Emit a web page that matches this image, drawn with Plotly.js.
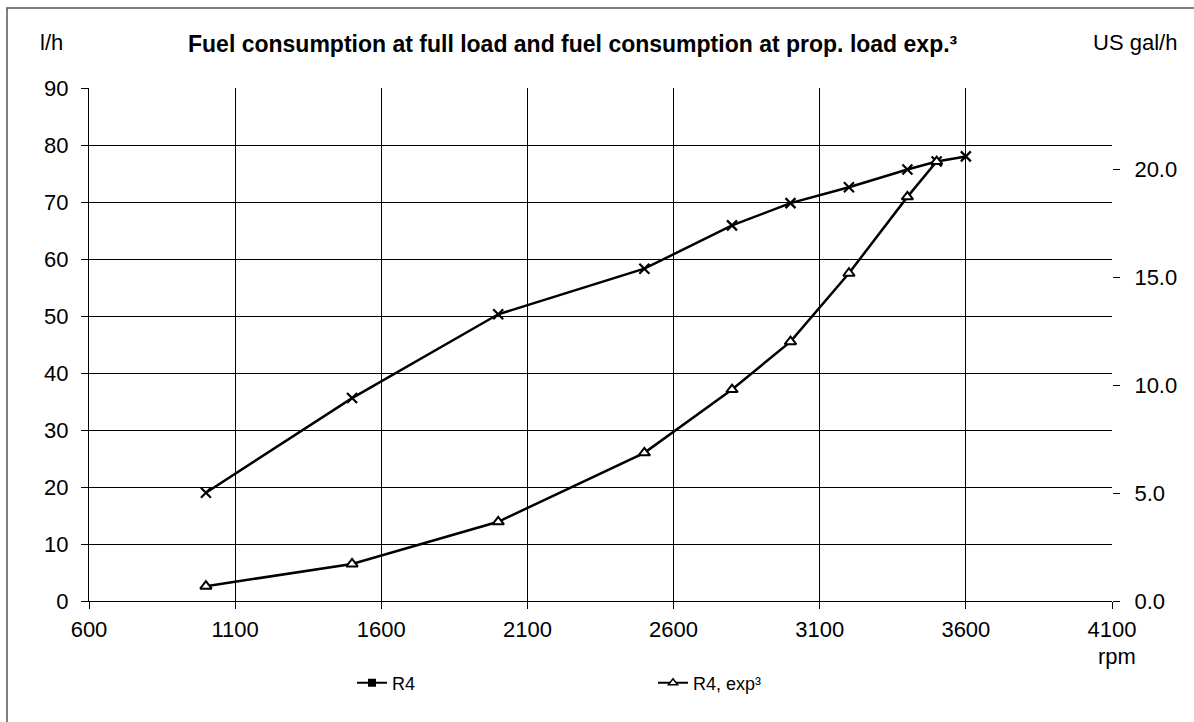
<!DOCTYPE html>
<html><head><meta charset="utf-8">
<script src="https://cdn.plot.ly/plotly-3.0.1.min.js"></script>
<style>body{margin:0;background:#fff}#chart{width:1194px;height:722px}</style>
</head><body><div id="chart"></div>
<script>
const rpm = [1000, 1500, 2000, 2500, 2800, 3000, 3200, 3400, 3500, 3600];
const fullLoad = [19.0, 35.6, 50.3, 58.3, 65.9, 69.8, 72.6, 75.7, 77.1, 78.0];
const rpmProp = [1000, 1500, 2000, 2500, 2800, 3000, 3200, 3400, 3500];
const propLoad = [2.6, 6.5, 13.9, 26.0, 37.1, 45.5, 57.5, 70.9, 77.1];
const seriesNames = ['R4', 'R4, exp³'];
const LPERGAL = 3.785411784;
const F = 'Liberation Sans, Arial, sans-serif';
const PW = 1023, PH = 513;

const traces = [
  {x: rpm, y: fullLoad, mode: 'lines+markers', showlegend: false,
   line: {color: '#000', width: 2.5},
   marker: {symbol: 'x-thin', size: 10, color: '#000', line: {color: '#000', width: 2.2}}},
  {x: rpmProp, y: propLoad, mode: 'lines+markers', showlegend: false,
   line: {color: '#000', width: 2.5},
   marker: {symbol: 'triangle-up', size: 10, color: '#fff', line: {color: '#000', width: 2}}},
  {x: [null], y: [null], mode: 'lines+markers', name: seriesNames[0],
   line: {color: '#000', width: 2},
   marker: {symbol: 'square', size: 8, color: '#000'}},
  {x: [null], y: [null], mode: 'lines+markers', name: seriesNames[1],
   line: {color: '#000', width: 2},
   marker: {symbol: 'triangle-up', size: 8, color: '#fff', line: {color: '#000', width: 1.5}}},
  {x: [null], y: [null], yaxis: 'y2', showlegend: false, hoverinfo: 'skip'}
];

const layout = {
  width: 1194, height: 722,
  margin: {l: 89, r: 82, t: 88, b: 121},
  paper_bgcolor: '#fff', plot_bgcolor: '#fff',
  font: {family: F, size: 22, color: '#000'},
  showlegend: true,
  legend: {orientation: 'h', x: (352 - 89) / PW, y: -(683 - 601) / PH, xanchor: 'left', yanchor: 'middle',
           font: {family: F, size: 18}, entrywidth: 256, entrywidthmode: 'pixels',
           bgcolor: 'rgba(0,0,0,0)'},
  xaxis: {range: [600, 4100], tick0: 600, dtick: 500, showgrid: true, gridcolor: '#000', gridwidth: 1,
          ticks: 'outside', ticklen: 7, tickcolor: '#000', showline: true, linecolor: '#000', mirror: false,
          zeroline: false, tickfont: {family: F, size: 22}, ticklabelstandoff: 2},
  yaxis: {range: [0, 90], dtick: 10, showgrid: true, gridcolor: '#000', gridwidth: 1,
          ticks: 'outside', ticklen: 7, tickcolor: '#000', showline: true, linecolor: '#000',
          zeroline: false, tickfont: {family: F, size: 22}, ticklabelstandoff: 8},
  yaxis2: {overlaying: 'y', side: 'right', range: [0, 90 / LPERGAL], tick0: 0, dtick: 5,
           tickformat: '.1f', showgrid: false, zeroline: false, ticks: 'outside', ticklen: 7,
           tickcolor: '#000', showline: false, tickfont: {family: F, size: 22}, ticklabelstandoff: 10},
  annotations: [
    {text: '<b>Fuel consumption at full load and fuel consumption at prop. load exp.³</b>',
     xref: 'paper', yref: 'paper', x: (573 - 89) / PW, y: 1.0 + (88 - 44) / PH, xanchor: 'center', yanchor: 'middle',
     showarrow: false, font: {family: F, size: 23}},
    {text: 'l/h', xref: 'paper', yref: 'paper', x: (51 - 89) / PW, y: 1.0 + (88 - 42) / PH,
     xanchor: 'center', yanchor: 'middle', showarrow: false, font: {family: F, size: 22}},
    {text: 'US gal/h', xref: 'paper', yref: 'paper', x: 1 + (1135 - 1112) / PW, y: 1.0 + (88 - 42) / PH,
     xanchor: 'center', yanchor: 'middle', showarrow: false, font: {family: F, size: 22}},
    {text: 'rpm', xref: 'paper', yref: 'paper', x: 1 + (1117 - 1112) / PW, y: -(656 - 601) / PH,
     xanchor: 'center', yanchor: 'middle', showarrow: false, font: {family: F, size: 22}}
  ],
  shapes: [
    {type: 'rect', xref: 'paper', yref: 'paper',
     x0: (7 - 89) / PW, x1: (1300 - 89) / PW, y0: (601 - 800) / PH, y1: (601 - 8) / PH,
     line: {color: '#555', width: 1.5}, fillcolor: 'rgba(0,0,0,0)', layer: 'below'}
  ]
};
Plotly.newPlot('chart', traces, layout, {displayModeBar: false, staticPlot: true});
</script></body></html>
